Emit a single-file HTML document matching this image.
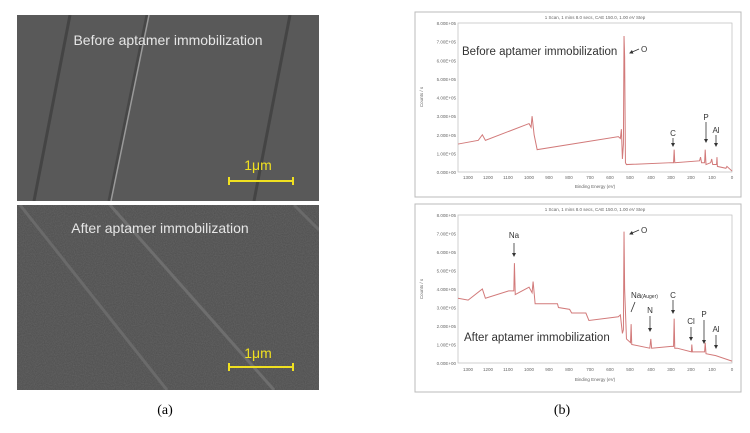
<!DOCTYPE html>
<html><head><meta charset="utf-8"><style>
body{margin:0;width:750px;height:428px;background:#fff;overflow:hidden;font-family:"Liberation Sans",sans-serif}
</style></head><body>
<svg width="750" height="428" viewBox="0 0 750 428" xmlns="http://www.w3.org/2000/svg" font-family="Liberation Sans, sans-serif">
<defs>
<filter id="n1"><feTurbulence type="fractalNoise" baseFrequency="0.9" numOctaves="2" seed="3"/><feColorMatrix values="0 0 0 0 0.3  0 0 0 0 0.3  0 0 0 0 0.3  0 0 0 0.35 0"/><feComposite in2="SourceGraphic" operator="in"/></filter>
<marker id="ah" markerWidth="4" markerHeight="4" refX="3" refY="2" orient="auto" markerUnits="userSpaceOnUse"><path d="M0,0 L4,2 L0,4 z" fill="#333"/></marker>
</defs>
<!-- SEM top -->
<g>
<rect x="17" y="15" width="302" height="186" fill="#595959"/>
<clipPath id="c1"><rect x="17" y="15" width="302" height="186"/></clipPath>
<g clip-path="url(#c1)">
<line x1="70" y1="15" x2="34" y2="201" stroke="#444" stroke-width="3"/>
<line x1="147" y1="15" x2="109" y2="201" stroke="#474747" stroke-width="3"/>
<line x1="149" y1="15" x2="111" y2="201" stroke="#9a9a9a" stroke-width="1.5"/>
<line x1="290" y1="15" x2="254" y2="201" stroke="#444" stroke-width="3"/>
</g>
<text x="168" y="45" fill="#e6e6e6" font-size="14" text-anchor="middle">Before aptamer immobilization</text>
<text x="258" y="170" fill="#f0e020" font-size="14" text-anchor="middle">1μm</text>
<line x1="229" y1="181" x2="293" y2="181" stroke="#f0e020" stroke-width="2"/>
<line x1="229" y1="177" x2="229" y2="185" stroke="#f0e020" stroke-width="2"/>
<line x1="293" y1="177" x2="293" y2="185" stroke="#f0e020" stroke-width="2"/>
</g>
<!-- SEM bottom -->
<g>
<rect x="17" y="205" width="302" height="185" fill="#4c4c4c"/>
<clipPath id="c2"><rect x="17" y="205" width="302" height="185"/></clipPath>
<g clip-path="url(#c2)">
<rect x="17" y="205" width="302" height="185" fill="#4c4c4c" filter="url(#n1)"/>
<line x1="20" y1="205" x2="167" y2="390" stroke="#6a6a6a" stroke-width="3"/>
<line x1="110" y1="205" x2="274" y2="390" stroke="#6e6e6e" stroke-width="3"/>
<line x1="294" y1="205" x2="319" y2="230" stroke="#6a6a6a" stroke-width="3"/>
</g>
<text x="160" y="233" fill="#e6e6e6" font-size="14" text-anchor="middle">After aptamer immobilization</text>
<text x="258" y="358" fill="#f0e020" font-size="14" text-anchor="middle">1μm</text>
<line x1="229" y1="367" x2="293" y2="367" stroke="#f0e020" stroke-width="2"/>
<line x1="229" y1="363" x2="229" y2="371" stroke="#f0e020" stroke-width="2"/>
<line x1="293" y1="363" x2="293" y2="371" stroke="#f0e020" stroke-width="2"/>
</g>
<text x="165" y="414" font-size="14" font-family="Liberation Serif, serif" text-anchor="middle">(a)</text>
<text x="562" y="414" font-size="14" font-family="Liberation Serif, serif" text-anchor="middle">(b)</text>

<!-- XPS top -->
<rect x="415" y="12" width="326" height="185" fill="#fff" stroke="#bbb"/>
<text x="595" y="19" font-size="4.5" fill="#666" text-anchor="middle">1 Scan,  1 mins 8.0 secs,  CAE 150.0,  1.00 eV Step</text>
<rect x="458" y="23" width="274" height="149" fill="none" stroke="#bbb" stroke-width="0.7"/>
<g font-size="4.5" fill="#666" text-anchor="end">
<text x="456" y="25">8.00E+05</text><text x="456" y="43.6">7.00E+05</text><text x="456" y="62.3">6.00E+05</text><text x="456" y="81">5.00E+05</text><text x="456" y="99.5">4.00E+05</text><text x="456" y="118">3.00E+05</text><text x="456" y="137">2.00E+05</text><text x="456" y="155.6">1.00E+05</text><text x="456" y="174">0.00E+00</text>
</g>
<text transform="translate(423,97) rotate(-90)" font-size="4.5" fill="#666" text-anchor="middle">Counts / s</text>
<g font-size="4.5" fill="#666" text-anchor="middle">
<text x="468" y="179">1300</text><text x="488" y="179">1200</text><text x="508" y="179">1100</text><text x="529" y="179">1000</text><text x="549" y="179">900</text><text x="569" y="179">800</text><text x="590" y="179">700</text><text x="610" y="179">600</text><text x="630" y="179">500</text><text x="651" y="179">400</text><text x="671" y="179">300</text><text x="691" y="179">200</text><text x="712" y="179">100</text><text x="732" y="179">0</text>
</g>
<text x="595" y="188" font-size="4.5" fill="#666" text-anchor="middle">Binding Energy (eV)</text>
<g transform="translate(732,172) scale(-0.20296,-18.625)">
<polyline fill="none" stroke="#d27a7a" stroke-width="1" vector-effect="non-scaling-stroke" points="1350,1.5 1250,1.7 1230,2.0 1215,1.7 1000,2.6 990,2.4 985,3.0 975,2.0 960,1.2 560,1.9 550,1.8 545,2.3 540,0.7 535,1.5 532,7.3 529,6.2 525,0.5 520,0.4 300,0.5 288,0.5 285,1.2 282,0.5 160,0.6 155,0.8 150,0.5 135,0.5 132,1.2 128,0.4 105,0.5 100,0.7 95,0.4 76,0.4 74,0.8 72,0.3 30,0.2 25,0.3 0,0.05"/>
</g>
<text x="462" y="55" font-size="11.5" fill="#333">Before aptamer immobilization</text>
<text x="641" y="52" font-size="8" fill="#333">O</text>
<line x1="639" y1="49" x2="630" y2="53" stroke="#333" stroke-width="0.8" marker-end="url(#ah)"/>
<text x="673" y="136" font-size="8" fill="#333" text-anchor="middle">C</text>
<line x1="673" y1="138" x2="673" y2="146" stroke="#333" stroke-width="0.8" marker-end="url(#ah)"/>
<text x="706" y="120" font-size="8" fill="#333" text-anchor="middle">P</text>
<line x1="706" y1="122" x2="706" y2="142" stroke="#333" stroke-width="0.8" marker-end="url(#ah)"/>
<text x="716" y="133" font-size="8" fill="#333" text-anchor="middle">Al</text>
<line x1="716" y1="135" x2="716" y2="146" stroke="#333" stroke-width="0.8" marker-end="url(#ah)"/>

<!-- XPS bottom -->
<rect x="415" y="204" width="326" height="188" fill="#fff" stroke="#bbb"/>
<text x="595" y="211" font-size="4.5" fill="#666" text-anchor="middle">1 Scan,  1 mins 8.0 secs,  CAE 150.0,  1.00 eV Step</text>
<rect x="458" y="215" width="274" height="148" fill="none" stroke="#bbb" stroke-width="0.7"/>
<g font-size="4.5" fill="#666" text-anchor="end">
<text x="456" y="217">8.00E+05</text><text x="456" y="235.5">7.00E+05</text><text x="456" y="254">6.00E+05</text><text x="456" y="272.5">5.00E+05</text><text x="456" y="291">4.00E+05</text><text x="456" y="309.5">3.00E+05</text><text x="456" y="328">2.00E+05</text><text x="456" y="346.5">1.00E+05</text><text x="456" y="365">0.00E+00</text>
</g>
<text transform="translate(423,289) rotate(-90)" font-size="4.5" fill="#666" text-anchor="middle">Counts / s</text>
<g font-size="4.5" fill="#666" text-anchor="middle">
<text x="468" y="371">1300</text><text x="488" y="371">1200</text><text x="508" y="371">1100</text><text x="529" y="371">1000</text><text x="549" y="371">900</text><text x="569" y="371">800</text><text x="590" y="371">700</text><text x="610" y="371">600</text><text x="630" y="371">500</text><text x="651" y="371">400</text><text x="671" y="371">300</text><text x="691" y="371">200</text><text x="712" y="371">100</text><text x="732" y="371">0</text>
</g>
<text x="595" y="381" font-size="4.5" fill="#666" text-anchor="middle">Binding Energy (eV)</text>
<g transform="translate(732,363) scale(-0.20296,-18.5)">
<polyline fill="none" stroke="#d27a7a" stroke-width="1" vector-effect="non-scaling-stroke" points="1350,3.5 1300,3.4 1230,4.0 1215,3.5 1100,3.9 1075,3.9 1072,5.4 1068,3.7 1000,4.1 985,3.8 980,4.4 970,3.2 860,3.2 855,3.0 800,2.9 790,2.7 720,2.7 705,2.3 560,2.5 550,2.6 540,1.6 535,1.8 532,7.1 529,4.0 520,1.3 500,1.1 497,2.1 494,1.0 405,0.8 400,1.3 396,0.8 300,0.9 288,0.9 285,2.4 282,0.8 270,0.8 200,0.6 198,1.0 195,0.6 135,0.6 132,1.1 128,0.5 80,0.4 0,0.1"/>
</g>
<text x="464" y="341" font-size="11.5" fill="#333">After aptamer immobilization</text>
<text x="514" y="238" font-size="8" fill="#333" text-anchor="middle">Na</text>
<line x1="514" y1="243" x2="514" y2="256" stroke="#333" stroke-width="0.8" marker-end="url(#ah)"/>
<text x="641" y="233" font-size="8" fill="#333">O</text>
<line x1="639" y1="230" x2="630" y2="234" stroke="#333" stroke-width="0.8" marker-end="url(#ah)"/>
<text x="631" y="298" font-size="8" fill="#333">Na<tspan font-size="5">(Auger)</tspan></text>
<line x1="635" y1="302" x2="631" y2="312" stroke="#333" stroke-width="0.8"/>
<text x="650" y="313" font-size="8" fill="#333" text-anchor="middle">N</text>
<line x1="650" y1="316" x2="650" y2="331" stroke="#333" stroke-width="0.8" marker-end="url(#ah)"/>
<text x="673" y="298" font-size="8" fill="#333" text-anchor="middle">C</text>
<line x1="673" y1="300" x2="673" y2="313" stroke="#333" stroke-width="0.8" marker-end="url(#ah)"/>
<text x="691" y="324" font-size="8" fill="#333" text-anchor="middle">Cl</text>
<line x1="691" y1="327" x2="691" y2="340" stroke="#333" stroke-width="0.8" marker-end="url(#ah)"/>
<text x="704" y="317" font-size="8" fill="#333" text-anchor="middle">P</text>
<line x1="704" y1="320" x2="704" y2="343" stroke="#333" stroke-width="0.8" marker-end="url(#ah)"/>
<text x="716" y="332" font-size="8" fill="#333" text-anchor="middle">Al</text>
<line x1="716" y1="335" x2="716" y2="348" stroke="#333" stroke-width="0.8" marker-end="url(#ah)"/>
</svg>
</body></html>
